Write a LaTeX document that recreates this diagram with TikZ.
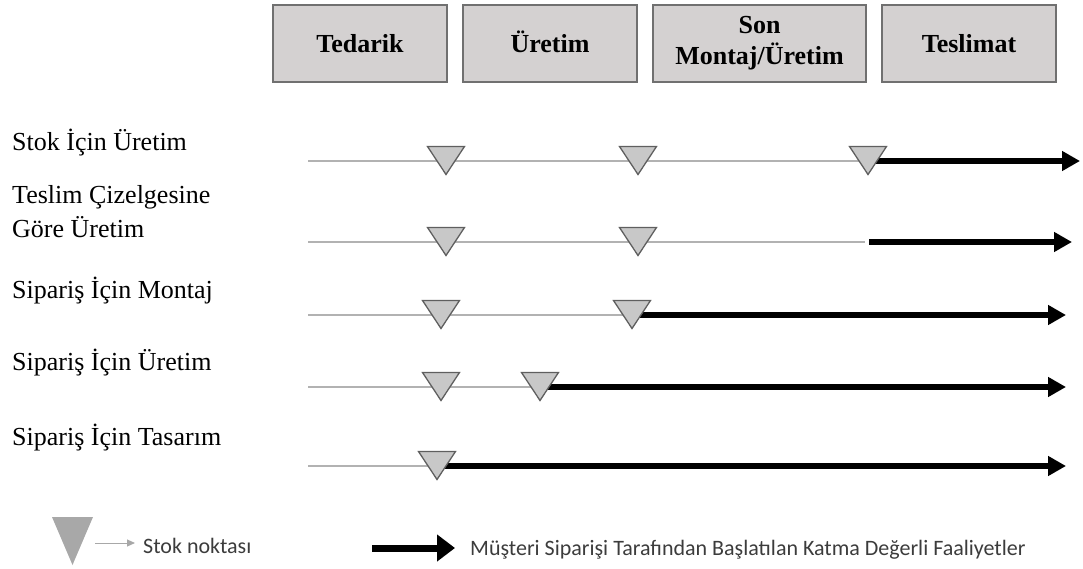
\documentclass[tikz,border=0pt]{standalone}
\usepackage{fontspec}
\setmainfont{Liberation Serif}
\newfontfamily\legendfont{Carlito}
\usetikzlibrary{arrows.meta}

\definecolor{boxfill}{RGB}{212,209,209}
\definecolor{boxedge}{RGB}{112,112,112}
\definecolor{stockline}{RGB}{178,178,178}
\definecolor{stockfill}{RGB}{200,200,200}
\definecolor{stockedge}{RGB}{95,95,95}
\definecolor{legendgray}{RGB}{168,168,168}
\definecolor{legendtext}{RGB}{60,60,60}

% downward stock triangle hanging on the line through a named coordinate
\newcommand\stocktri[1]{%
  \draw[tri] ([shift={(-18.5,-14.5)}]#1) -- ++(37,0) -- ([shift={(0,13.5)}]#1) -- cycle;}

\begin{document}
\begin{tikzpicture}[x=1pt,y=-1pt,
  stage/.style={draw=boxedge, line width=1.8pt, fill=boxfill, minimum height=77pt,
    inner sep=0pt, font=\bfseries\fontsize{26}{31}\selectfont, align=center},
  oneline/.style={text height=20pt, text depth=2pt},
  rowlabel/.style={anchor=base west, inner sep=0pt, font=\fontsize{26}{34}\selectfont, align=left},
  grayline/.style={draw=stockline, line width=1.5pt},
  flow/.style={line width=5.5pt, -{Triangle[length=18pt,width=19pt]}},
  tri/.style={fill=stockfill, draw=stockedge, line width=1.3pt, line join=miter},
  legendlabel/.style={anchor=base west, inner sep=0pt, text=legendtext, font=\legendfont\fontsize{22}{26}\selectfont}
]
\useasboundingbox (0,0) rectangle (1083,569);

% process stages
\node[stage, oneline, minimum width=174pt] (tedarik) at (360,43.5) {Tedarik};
\node[stage, oneline, minimum width=174pt] (uretim)  at (550,43.5) {Üretim};
\node[stage, minimum width=213pt] (montaj)  at (759.5,43.5) {Son\\Montaj/Üretim};
\node[stage, oneline, minimum width=174pt] (teslim)  at (969,43.5) {Teslimat};

% strategy labels (multi-line labels sit on their last baseline)
\node[rowlabel] (l1) at (12,151) {Stok İçin Üretim};
\node[rowlabel] (l2) at (12,237) {Teslim Çizelgesine\\Göre Üretim};
\node[rowlabel] (l3) at (12,298) {Sipariş İçin Montaj};
\node[rowlabel] (l4) at (12,370) {Sipariş İçin Üretim};
\node[rowlabel] (l5) at (12,445) {Sipariş İçin Tasarım};

% row coordinates
\coordinate (r1s) at (308,161); \coordinate (r1a) at (446,161);
\coordinate (r1b) at (638,161); \coordinate (r1c) at (868,161);
\coordinate (r1e) at (1080,161);

\coordinate (r2s) at (308,242); \coordinate (r2a) at (446,242);
\coordinate (r2b) at (638,242); \coordinate (r2m) at (865,242);
\coordinate (r2k) at (869,242); \coordinate (r2e) at (1072,242);

\coordinate (r3s) at (308,315); \coordinate (r3a) at (441,315);
\coordinate (r3b) at (632,315); \coordinate (r3e) at (1066,315);

\coordinate (r4s) at (308,387); \coordinate (r4a) at (441,387);
\coordinate (r4b) at (540,387); \coordinate (r4e) at (1066,387);

\coordinate (r5s) at (308,466); \coordinate (r5a) at (437,466);
\coordinate (r5e) at (1066,466);

% stock-driven segments
\draw[grayline] (r1s) -- (r1c);
\draw[grayline] (r2s) -- (r2m);
\draw[grayline] (r3s) -- (r3b);
\draw[grayline] (r4s) -- (r4b);
\draw[grayline] (r5s) -- (r5a);

% order-driven segments
\draw[flow] (r1c) -- (r1e);
\draw[flow] (r2k) -- (r2e);
\draw[flow] (r3b) -- (r3e);
\draw[flow] (r4b) -- (r4e);
\draw[flow] (r5a) -- (r5e);

% stock points
\foreach \p in {r1a,r1b,r1c,r2a,r2b,r3a,r3b,r4a,r4b,r5a} {\stocktri{\p}}

% legend
\coordinate (legtri) at (72.5,541);
\fill[legendgray] ([shift={(-20.5,-24)}]legtri) -- ++(41,0) -- ([shift={(0,24)}]legtri) -- cycle;
\coordinate (legA) at (95,543);
\node[legendlabel] (stoklbl) at (143,553) {Stok noktası};
\draw[legendgray, line width=1pt, shorten >=8pt, -{Triangle[length=8pt,width=7pt]}]
  (legA) -- (legA -| stoklbl.west);

\coordinate (legB) at (372,548);
\node[legendlabel] (flowlbl) at (470,555) {Müşteri Siparişi Tarafından Başlatılan Katma Değerli Faaliyetler};
\draw[line width=7pt, shorten >=15pt, -{Triangle[length=18pt,width=26pt]}]
  (legB) -- (legB -| flowlbl.west);
\end{tikzpicture}
\end{document}
